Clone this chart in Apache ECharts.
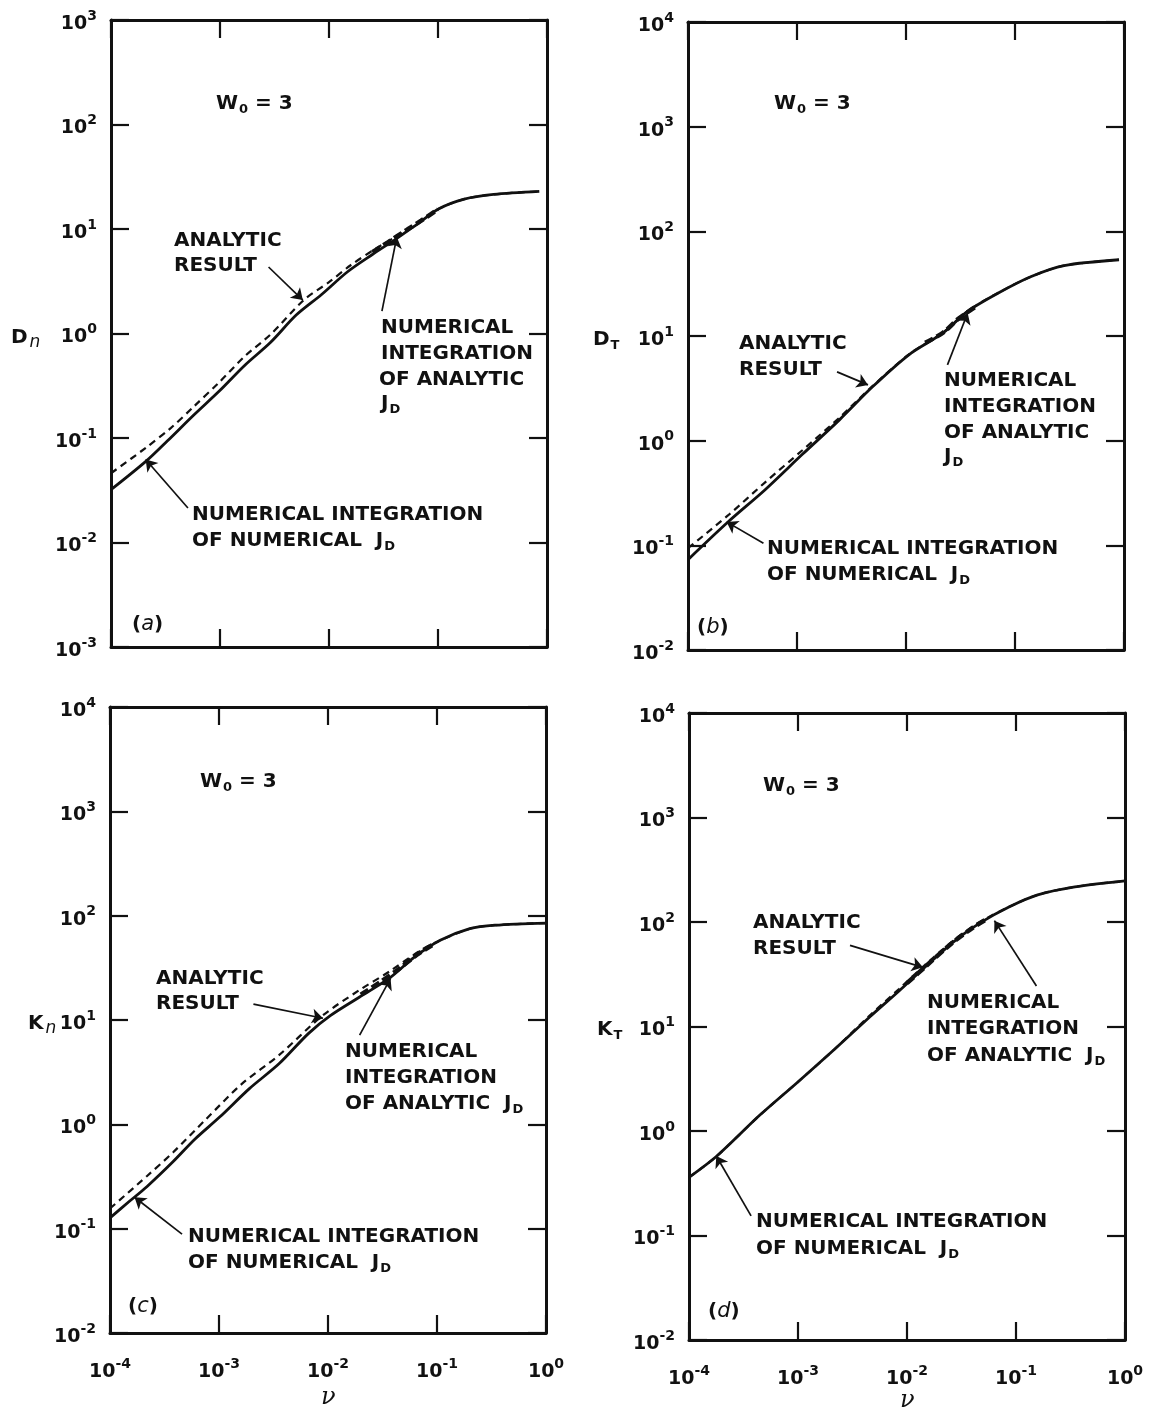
<!DOCTYPE html>
<html><head><meta charset="utf-8">
<script src="https://cdn.jsdelivr.net/npm/echarts@6/dist/echarts.min.js"></script>
<style>html,body{margin:0;padding:0;background:#fff}#c{width:1151px;height:1413px}</style>
</head><body><div id="c"></div>
<script>
// ---------------- DATA ----------------
// x axis (nu) tick exponents
const xTickExp = [-4, -3, -2, -1, 0];
// y axis tick exponents per panel
const yTickExpA = [-3, -2, -1, 0, 1, 2, 3];
const yTickExpB = [-2, -1, 0, 1, 2, 3, 4];
const yTickExpC = [-2, -1, 0, 1, 2, 3, 4];
const yTickExpD = [-2, -1, 0, 1, 2, 3, 4];

// (a) D_n
const nuA_num = [1e-4, 2.1e-4, 3.3e-4, 5.75e-4, 9.8e-4, 1.7e-3, 2.9e-3, 5.0e-3, 8.5e-3, 1.48e-2, 2.5e-2, 4.1e-2, 6.5e-2, 0.102, 0.174, 0.324, 0.85];
const DnA_num = [0.032, 0.060, 0.094, 0.166, 0.28, 0.50, 0.82, 1.5, 2.35, 3.9, 5.7, 8.0, 11.2, 15.6, 19.3, 21.4, 22.9];
const nuA_ana = [1e-4, 2.1e-4, 3.55e-4, 5.75e-4, 9.8e-4, 1.7e-3, 2.9e-3, 5.9e-3, 1.0e-2, 1.58e-2, 2.75e-2, 4.1e-2, 6.5e-2, 0.102, 0.174, 0.324, 0.85];
const DnA_ana = [0.046, 0.081, 0.125, 0.20, 0.34, 0.61, 0.975, 2.1, 3.1, 4.5, 6.6, 8.4, 11.3, 15.6, 19.3, 21.4, 22.9];
const nuA_numAna = [2.5e-2, 3.5e-2, 5e-2, 7e-2, 0.1];
const DnA_numAna = [6.0, 7.5, 9.6, 12.0, 15.4];

// (b) D_T
const nuB_num = [1e-4, 2.34e-4, 5.1e-4, 1.12e-3, 2.45e-3, 4.9e-3, 1.07e-2, 2.19e-2, 3.7e-2, 7.1e-2, 0.141, 0.282, 0.9];
const DTB_num = [0.073, 0.168, 0.34, 0.74, 1.58, 3.25, 6.65, 10.7, 17.3, 25.9, 37, 47, 53.5];
const nuB_ana = [1e-4, 2.34e-4, 5.1e-4, 1.12e-3, 2.45e-3, 4.9e-3, 1.07e-2, 2.19e-2, 3.7e-2, 7.1e-2, 0.141, 0.282, 0.9];
const DTB_ana = [0.094, 0.194, 0.40, 0.81, 1.66, 3.3, 6.7, 10.8, 17.4, 26, 37, 47, 53.5];
const nuB_numAna = [1.5e-2, 2.2e-2, 3e-2, 4.5e-2];
const DTB_numAna = [8.6, 10.8, 14.5, 19.5];

// (c) K_n
const nuC_num = [1e-4, 1.48e-4, 2.19e-4, 3.8e-4, 6.0e-4, 1.02e-3, 1.9e-3, 3.55e-3, 6.6e-3, 1.05e-2, 1.95e-2, 3.63e-2, 6.2e-2, 0.107, 0.2, 0.34, 1.0];
const KnC_num = [0.127, 0.18, 0.254, 0.44, 0.72, 1.18, 2.2, 3.8, 7.4, 11, 16.6, 25, 40, 58, 75, 81, 85];
const nuC_ana = [1e-4, 2.19e-4, 3.8e-4, 7.6e-4, 1.62e-3, 3.55e-3, 8.9e-3, 1.95e-2, 3.63e-2, 7.2e-2, 0.107, 0.2, 0.34, 1.0];
const KnC_ana = [0.156, 0.32, 0.54, 1.12, 2.44, 4.6, 11, 19.4, 29, 47, 58, 75, 81, 85];
const nuC_numAna = [2e-2, 3e-2, 4.5e-2, 6.5e-2, 0.09];
const KnC_numAna = [17.5, 23, 31, 42, 52];

// (d) K_T
const nuD_num = [1e-4, 1.78e-4, 4.47e-4, 9.8e-4, 2.14e-3, 4.57e-3, 8.5e-3, 1.45e-2, 2.69e-2, 4.68e-2, 8.7e-2, 0.158, 0.347, 1.0];
const KTD_num = [0.36, 0.57, 1.42, 2.9, 6.0, 12.4, 22, 36.7, 65, 98, 140, 182, 217, 248];
const nuD_ana = [1e-4, 1.78e-4, 4.47e-4, 9.8e-4, 2.14e-3, 4.57e-3, 8.5e-3, 1.45e-2, 2.69e-2, 4.68e-2, 8.7e-2, 0.158, 0.347, 1.0];
const KTD_ana = [0.36, 0.57, 1.42, 2.9, 6.0, 12.8, 23, 38.5, 67, 100, 140, 182, 217, 248];
const nuD_numAna = [1e-2, 1.5e-2, 2.5e-2, 4e-2, 5.5e-2];
const KTD_numAna = [26, 38, 61, 88, 108];

// annotation arrows (data coords): [fromNu, fromY, toNu, toY]
const arrowsA = [[2.79e-3, 4.33, 5.75e-3, 2.09], [3.06e-2, 1.64, 4.19e-2, 8.4], [5.08e-4, 0.0214, 2.08e-4, 0.0622]];
const arrowsB = [[2.33e-3, 4.54, 4.48e-3, 3.41], [2.4e-2, 5.3, 3.68e-2, 16.6], [4.92e-4, 0.1045, 2.26e-4, 0.1675]];
const arrowsC = [[2.07e-3, 14.2, 9.0e-3, 10.4], [1.95e-2, 7.16, 3.75e-2, 25.1], [4.58e-4, 0.0885, 1.68e-4, 0.2]];
const arrowsD = [[3.0e-3, 59.7, 1.4e-2, 36.8], [0.154, 24.4, 6.34e-2, 103], [3.71e-4, 0.154, 1.78e-4, 0.577]];

// ---------------- CHART ----------------
const F = "'DejaVu Sans', sans-serif";
const INK = '#111';
const grids = [
  {left: 111, top: 20, width: 436, height: 627},
  {left: 688, top: 22, width: 436, height: 628},
  {left: 110, top: 707, width: 436, height: 626},
  {left: 689, top: 713, width: 436, height: 627}
];
const yTicks = [yTickExpA, yTickExpB, yTickExpC, yTickExpD];

const labRich = {
  b: {fontSize: 19, fontWeight: 'bold', fontFamily: F, color: INK, padding: [8, 0, 0, 0]},
  s: {fontSize: 14, fontWeight: 'bold', fontFamily: F, color: INK, padding: [0, 0, 8, 0]}
};
function supLabel(v) {
  const e = Math.round(Math.log10(v));
  return '{b|10}{s|' + e + '}';
}
function axisCommon(showLabel, margin) {
  return {
    type: 'log', logBase: 10,
    axisLine: {show: true, lineStyle: {color: INK, width: 3}},
    axisTick: {show: true, inside: true, length: 18, lineStyle: {color: INK, width: 2.2}},
    axisLabel: {show: showLabel, margin: margin, formatter: supLabel, rich: labRich},
    splitLine: {show: false}, minorTick: {show: false}, minorSplitLine: {show: false}
  };
}
const xAxes = [], yAxes = [];
grids.forEach((g, i) => {
  const xmin = Math.pow(10, xTickExp[0]), xmax = Math.pow(10, xTickExp[xTickExp.length - 1]);
  const ye = yTicks[i];
  const ymin = Math.pow(10, ye[0]), ymax = Math.pow(10, ye[ye.length - 1]);
  xAxes.push(Object.assign(axisCommon(i >= 2, 22), {gridIndex: i, position: 'bottom', min: xmin, max: xmax}));
  xAxes.push(Object.assign(axisCommon(false, 8), {gridIndex: i, position: 'top', min: xmin, max: xmax}));
  yAxes.push(Object.assign(axisCommon(true, 14), {gridIndex: i, position: 'left', min: ymin, max: ymax}));
  yAxes.push(Object.assign(axisCommon(false, 8), {gridIndex: i, position: 'right', min: ymin, max: ymax}));
});

function mkSeries(gi, xs, ys, kind, arrows) {
  const s = {
    type: 'line', xAxisIndex: 2 * gi, yAxisIndex: 2 * gi,
    data: xs.map((x, k) => [x, ys[k]]),
    symbol: 'none', smooth: 0.3, silent: true, animation: false,
    lineStyle: kind === 'num' ? {color: INK, width: 2.8, type: 'solid'}
      : kind === 'ana' ? {color: INK, width: 2.2, type: [7, 5]}
      : {color: INK, width: 4.5, type: [9, 4]},
    z: kind === 'numAna' ? 4 : 3
  };
  if (arrows) {
    s.markLine = {
      silent: true, animation: false,
      symbol: ['none', 'arrow'], symbolSize: 11,
      label: {show: false},
      emphasis: {disabled: true},
      lineStyle: {color: INK, width: 1.7, type: 'solid', curveness: 0.15},
      data: arrows.map(a => [{coord: [a[0], a[1]]}, {coord: [a[2], a[3]]}])
    };
  }
  return s;
}
const series = [
  mkSeries(0, nuA_ana, DnA_ana, 'ana'), mkSeries(0, nuA_num, DnA_num, 'num', arrowsA), mkSeries(0, nuA_numAna, DnA_numAna, 'numAna'),
  mkSeries(1, nuB_ana, DTB_ana, 'ana'), mkSeries(1, nuB_num, DTB_num, 'num', arrowsB), mkSeries(1, nuB_numAna, DTB_numAna, 'numAna'),
  mkSeries(2, nuC_ana, KnC_ana, 'ana'), mkSeries(2, nuC_num, KnC_num, 'num', arrowsC), mkSeries(2, nuC_numAna, KnC_numAna, 'numAna'),
  mkSeries(3, nuD_ana, KTD_ana, 'ana'), mkSeries(3, nuD_num, KTD_num, 'num', arrowsD), mkSeries(3, nuD_numAna, KTD_numAna, 'numAna')
];

const txtRich = {
  t: {fontSize: 20, fontWeight: 'bold', fontFamily: F, color: INK},
  sub: {fontSize: 13, fontWeight: 'bold', fontFamily: F, color: INK, padding: [12, 0, 0, 1]},
  si: {fontSize: 17, fontStyle: 'italic', fontFamily: F, color: INK, padding: [10, 0, 0, 2]},
  it: {fontSize: 21, fontStyle: 'italic', fontFamily: F, color: INK},
  nu: {fontSize: 24, fontStyle: 'italic', fontFamily: "'DejaVu Serif', serif", color: INK}
};
function T(x, y, text) {
  return {type: 'text', x: x, y: y, silent: true,
    style: {text: text, rich: txtRich, verticalAlign: 'middle', align: 'left', fontFamily: F, fontSize: 20, fontWeight: 'bold', fill: INK}};
}
const graphic = [
  // (a)
  T(11, 338, '{t|D}{si|n}'),
  T(216, 104, '{t|W}{sub|0}{t| = 3}'),
  T(174, 241, '{t|ANALYTIC}'), T(174, 266, '{t|RESULT}'),
  T(381, 328, '{t|NUMERICAL}'), T(381, 354, '{t|INTEGRATION}'), T(379, 380, '{t|OF ANALYTIC}'), T(381, 404, '{t|J}{sub|D}'),
  T(192, 515, '{t|NUMERICAL INTEGRATION}'), T(192, 541, '{t|OF NUMERICAL  J}{sub|D}'),
  T(132, 625, '{t|(}{it|a}{t|)}'),
  // (b)
  T(593, 340, '{t|D}{sub|T}'),
  T(774, 104, '{t|W}{sub|0}{t| = 3}'),
  T(739, 344, '{t|ANALYTIC}'), T(739, 370, '{t|RESULT}'),
  T(944, 381, '{t|NUMERICAL}'), T(944, 407, '{t|INTEGRATION}'), T(944, 433, '{t|OF ANALYTIC}'), T(944, 457, '{t|J}{sub|D}'),
  T(767, 549, '{t|NUMERICAL INTEGRATION}'), T(767, 575, '{t|OF NUMERICAL  J}{sub|D}'),
  T(697, 628, '{t|(}{it|b}{t|)}'),
  // (c)
  T(28, 1024, '{t|K}{si|n}'),
  T(200, 782, '{t|W}{sub|0}{t| = 3}'),
  T(156, 979, '{t|ANALYTIC}'), T(156, 1004, '{t|RESULT}'),
  T(345, 1052, '{t|NUMERICAL}'), T(345, 1078, '{t|INTEGRATION}'), T(345, 1104, '{t|OF ANALYTIC  J}{sub|D}'),
  T(188, 1237, '{t|NUMERICAL INTEGRATION}'), T(188, 1263, '{t|OF NUMERICAL  J}{sub|D}'),
  T(128, 1307, '{t|(}{it|c}{t|)}'),
  T(321, 1398, '{nu|ν}'),
  // (d)
  T(597, 1030, '{t|K}{sub|T}'),
  T(763, 786, '{t|W}{sub|0}{t| = 3}'),
  T(753, 923, '{t|ANALYTIC}'), T(753, 949, '{t|RESULT}'),
  T(927, 1003, '{t|NUMERICAL}'), T(927, 1029, '{t|INTEGRATION}'), T(927, 1056, '{t|OF ANALYTIC  J}{sub|D}'),
  T(756, 1222, '{t|NUMERICAL INTEGRATION}'), T(756, 1249, '{t|OF NUMERICAL  J}{sub|D}'),
  T(708, 1312, '{t|(}{it|d}{t|)}'),
  T(900, 1401, '{nu|ν}')
];

const chart = echarts.init(document.getElementById('c'), null, {renderer: 'canvas'});
chart.setOption({
  backgroundColor: '#fff',
  animation: false,
  grid: grids,
  xAxis: xAxes,
  yAxis: yAxes,
  series: series,
  graphic: graphic
});
</script></body></html>
